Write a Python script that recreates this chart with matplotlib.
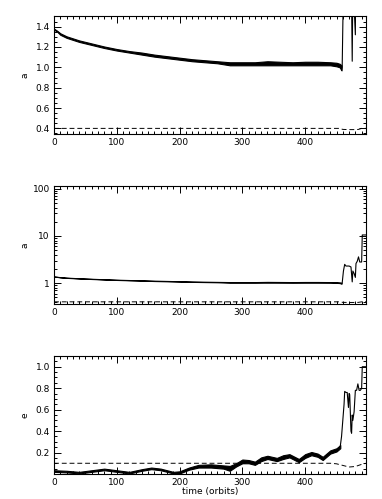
import numpy as np
import matplotlib
matplotlib.use('Agg')
import matplotlib.pyplot as plt
from matplotlib.ticker import MultipleLocator, LogLocator, NullFormatter

# semi-major axis a: band (min/max envelope) up to the instability
t_band = [0, 5, 10, 20, 30, 40, 50, 60, 80, 100, 120, 140, 160, 180, 200, 220, 240,
          260, 270, 280, 300, 320, 340, 360, 380, 400, 420, 440, 450, 455, 458]
a_lo = [1.37, 1.35, 1.32, 1.29, 1.27, 1.25, 1.235, 1.22, 1.19, 1.165, 1.145, 1.125, 1.105,
        1.09, 1.075, 1.06, 1.05, 1.04, 1.03, 1.02, 1.02, 1.02, 1.02, 1.02, 1.02, 1.02,
        1.02, 1.02, 1.01, 1.0, 0.97]
a_hi = [1.38, 1.36, 1.335, 1.305, 1.285, 1.265, 1.25, 1.235, 1.205, 1.18, 1.16, 1.145,
        1.125, 1.11, 1.095, 1.08, 1.07, 1.06, 1.055, 1.05, 1.05, 1.05, 1.06, 1.055, 1.05,
        1.055, 1.055, 1.05, 1.045, 1.035, 1.02]

# a after the instability
t_spike = [458, 459, 461, 463, 465, 467, 470, 473, 475, 476, 478, 480, 481, 483, 485,
           487, 490, 491, 497]
a_spike = [0.97, 1.0, 1.8, 2.5, 2.3, 2.3, 2.3, 2.2, 1.06, 1.8, 1.6, 1.32, 2.6, 2.9, 3.6,
           2.8, 2.8, 10.5, 10.5]

# dashed reference (second body)
t_dash = [0, 440, 455, 460, 470, 480, 485, 490, 497]
a_dash = [0.40, 0.40, 0.40, 0.39, 0.388, 0.388, 0.39, 0.40, 0.40]

# eccentricity e: band envelope
t_eband = [0, 20, 40, 60, 80, 100, 120, 140, 155, 170, 190, 200, 215, 230, 250, 270, 280,
           290, 300, 310, 320, 330, 340, 355, 365, 375, 390, 400, 410, 420, 428, 440,
           450, 456]
e_lo = [0.02, 0.015, 0.005, 0.02, 0.035, 0.02, 0.005, 0.03, 0.045, 0.035, 0.005, 0.005,
        0.04, 0.06, 0.06, 0.05, 0.03, 0.07, 0.10, 0.10, 0.085, 0.12, 0.14, 0.12, 0.14,
        0.155, 0.11, 0.15, 0.175, 0.16, 0.13, 0.19, 0.21, 0.24]
e_hi = [0.035, 0.03, 0.02, 0.035, 0.05, 0.035, 0.02, 0.045, 0.06, 0.05, 0.02, 0.025,
        0.06, 0.085, 0.09, 0.08, 0.075, 0.10, 0.135, 0.13, 0.115, 0.155, 0.17, 0.15,
        0.175, 0.185, 0.14, 0.185, 0.205, 0.19, 0.16, 0.22, 0.24, 0.27]

t_espike = [456, 458, 460, 462, 463, 465, 467, 469, 470, 471, 473, 474, 475, 476, 478,
            480, 482, 484, 486, 488, 490, 491, 493, 497]
e_spike = [0.26, 0.35, 0.5, 0.65, 0.77, 0.76, 0.76, 0.62, 0.75, 0.74, 0.40, 0.38, 0.55,
           0.5, 0.58, 0.78, 0.78, 0.84, 0.78, 0.78, 0.80, 1.0, 1.0, 1.0]

t_edash = [0, 390, 440, 450, 460, 470, 480, 490, 497]
e_dash = [0.10, 0.10, 0.10, 0.095, 0.08, 0.065, 0.07, 0.09, 0.10]

plt.rcParams['font.family'] = 'DejaVu Sans'
plt.rcParams['font.size'] = 6.5

fig = plt.figure(figsize=(3.82, 4.99), dpi=100)
ax1 = fig.add_axes([0.1414, 0.7315, 0.8168, 0.2365])
ax2 = fig.add_axes([0.1414, 0.3908, 0.8168, 0.2365])
ax3 = fig.add_axes([0.1414, 0.0501, 0.8168, 0.2365])


def style(ax):
    ax.set_xlim(0, 497)
    ax.xaxis.set_major_locator(MultipleLocator(100))
    ax.xaxis.set_minor_locator(MultipleLocator(10))
    ax.tick_params(which='both', direction='in', top=True, right=True, width=0.7,
                   labelsize=6.5, pad=3)
    ax.tick_params(which='major', length=5)
    ax.tick_params(which='minor', length=2.5)
    for s in ax.spines.values():
        s.set_linewidth(0.8)


# panel 1: a, linear
ax1.fill_between(t_band, a_lo, a_hi, color='black', lw=0.8)
ax1.plot(t_spike, a_spike, color='black', lw=0.8)
ax1.plot(t_dash, a_dash, color='black', lw=0.7, dashes=(5, 3))
style(ax1)
ax1.set_ylim(0.345, 1.505)
ax1.yaxis.set_major_locator(MultipleLocator(0.2))
ax1.yaxis.set_minor_locator(MultipleLocator(0.05))
ax1.set_ylabel('a')
ax1.yaxis.set_label_coords(-0.077, 0.5)

# panel 2: a, log
ax2.fill_between(t_band, a_lo, a_hi, color='black', lw=0.8)
ax2.plot(t_spike, a_spike, color='black', lw=0.8)
ax2.plot(t_dash, a_dash, color='black', lw=0.7, dashes=(5, 3))
style(ax2)
ax2.set_yscale('log')
ax2.set_ylim(0.36, 115)
ax2.yaxis.set_major_locator(LogLocator(base=10))
ax2.yaxis.set_minor_locator(LogLocator(base=10, subs=np.arange(2, 10)))
ax2.yaxis.set_minor_formatter(NullFormatter())
ax2.set_yticks([1, 10, 100])
ax2.set_yticklabels(['1', '10', '100'])
ax2.set_ylabel('a')
ax2.yaxis.set_label_coords(-0.077, 0.5)

# panel 3: e
ax3.fill_between(t_eband, e_lo, e_hi, color='black', lw=0.8)
ax3.plot(t_espike, e_spike, color='black', lw=0.8)
ax3.plot(t_edash, e_dash, color='black', lw=0.7, dashes=(5, 3))
style(ax3)
ax3.set_ylim(0, 1.1)
ax3.set_yticks([0.2, 0.4, 0.6, 0.8, 1.0])
ax3.yaxis.set_minor_locator(MultipleLocator(0.05))
ax3.set_ylabel('e')
ax3.yaxis.set_label_coords(-0.077, 0.5)
ax3.set_xlabel('time (orbits)', labelpad=0)

fig.savefig('out.png', dpi=100)
